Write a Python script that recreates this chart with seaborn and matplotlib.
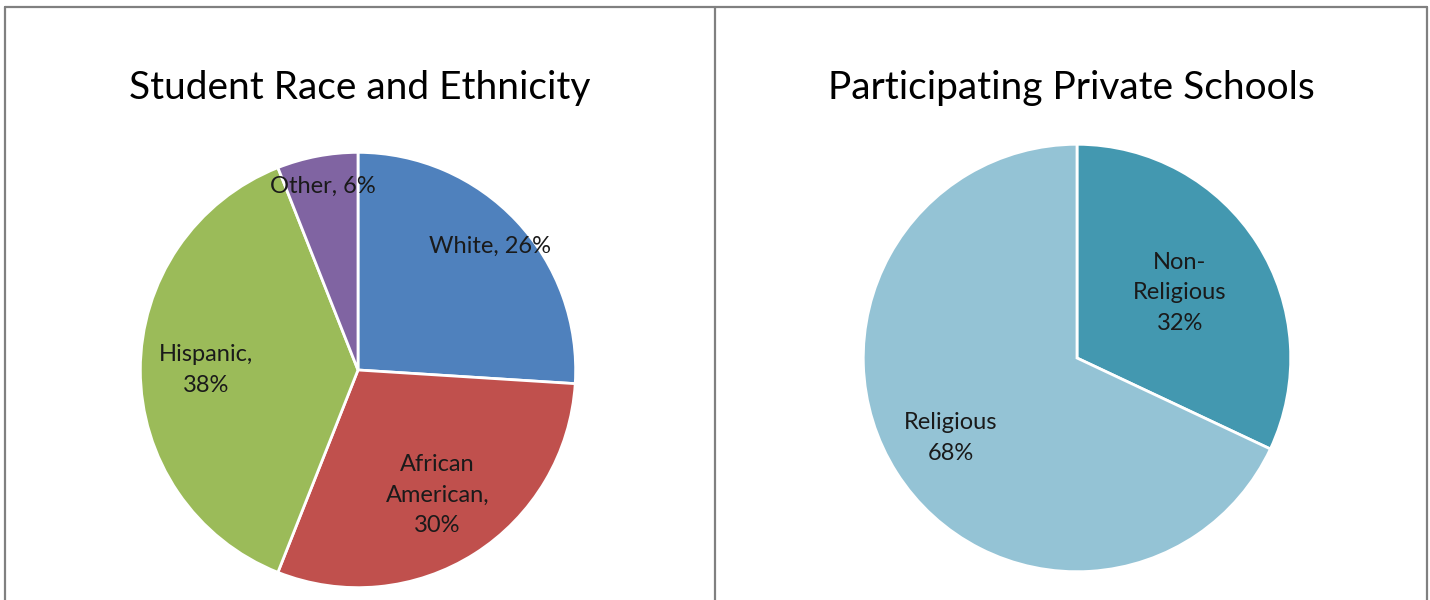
import matplotlib
matplotlib.use("Agg")
import numpy as np
import matplotlib.pyplot as plt
from matplotlib.lines import Line2D
import seaborn as sns

# %%
# chart data
race_labels = ['White', 'African\nAmerican', 'Hispanic', 'Other']
race_share = [26, 30, 38, 6]
race_colors = ['#4F81BD', '#C0504D', '#9BBB59', '#8064A2']

school_labels = ['Non-\nReligious', 'Religious']
school_share = [32, 68]
school_colors = ['#4398B0', '#94C3D5']

# %%
sns.set_theme(style='white')
plt.rcParams['font.family'] = ['Lato', 'DejaVu Sans']

W, H = 1430, 600
fig = plt.figure(figsize=(W / 100, H / 100), dpi=100)


def px_axes(cx, cy, r):
    # square axes placed in pixel coords (origin top-left)
    return fig.add_axes([(cx - r) / W, (H - cy - r) / H, 2 * r / W, 2 * r / H])


def draw_pie(ax, values, labels, colors, dists, seps):
    wedges, _ = ax.pie(values, colors=colors, startangle=90, counterclock=False,
                       radius=1, wedgeprops=dict(edgecolor='white', linewidth=2))
    for w, lab, val, d, sep in zip(wedges, labels, values, dists, seps):
        theta = np.deg2rad((w.theta1 + w.theta2) / 2)
        ax.text(d * np.cos(theta), d * np.sin(theta), f'{lab}{sep}{val}%',
                ha='center', va='center', fontsize=17, color='#1a1a1a',
                linespacing=1.55)
    ax.set_xlim(-1.02, 1.02)
    ax.set_ylim(-1.02, 1.02)
    ax.axis('off')


ax1 = px_axes(358, 370, 222)
draw_pie(ax1, race_share, race_labels, race_colors,
         [0.83, 0.68, 0.70, 0.86], [', ', ',\n', ',\n', ', '])

ax2 = px_axes(1077, 358, 218)
draw_pie(ax2, school_share, school_labels, school_colors,
         [0.57, 0.70], ['\n', '\n'])

fig.text(360 / W, 1 - 88 / H, 'Student Race and Ethnicity', ha='center', va='center',
         fontsize=28, color='black')
fig.text(1071 / W, 1 - 88 / H, 'Participating Private Schools', ha='center', va='center',
         fontsize=28, color='black')

# table-like border around the two panels
line_kw = dict(color='#808080', linewidth=1.6, transform=fig.transFigure)
top = 1 - 7 / H
fig.add_artist(Line2D([5 / W, 1427 / W], [top, top], **line_kw))
for x in (5, 715, 1427):
    fig.add_artist(Line2D([x / W, x / W], [0, top], **line_kw))

fig.savefig('out.png', dpi=100, facecolor='white')
